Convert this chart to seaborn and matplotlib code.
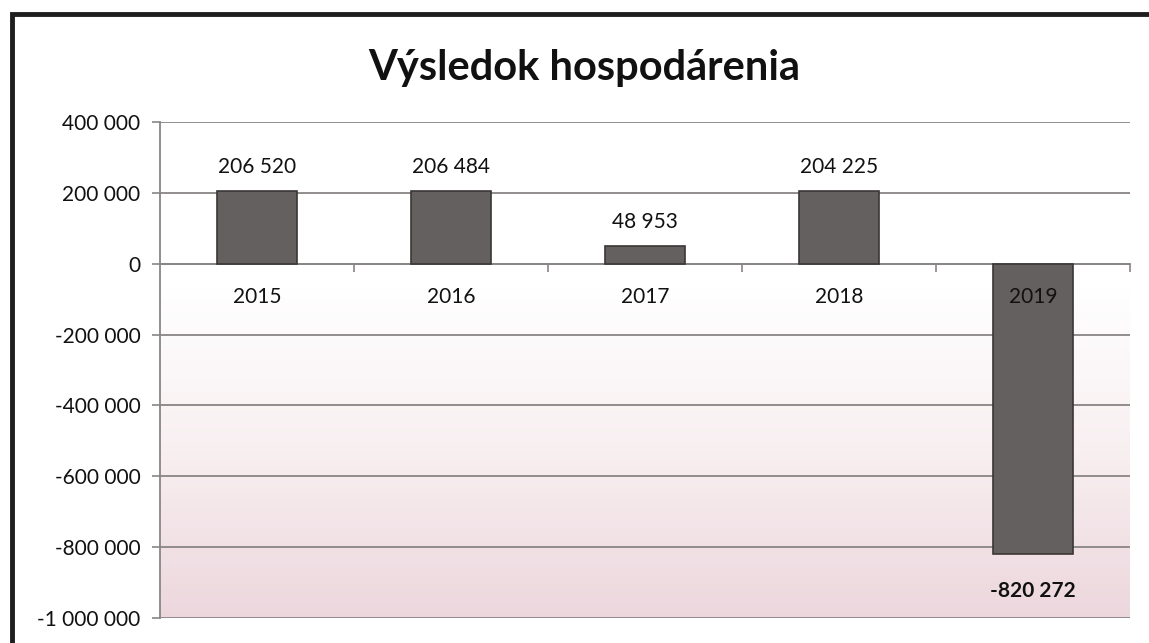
import numpy as np
import pandas as pd
import matplotlib
matplotlib.use("Agg")
import matplotlib.pyplot as plt
from matplotlib.patches import Rectangle
from matplotlib.colors import LinearSegmentedColormap
import seaborn as sns

years = ["2015", "2016", "2017", "2018", "2019"]
values = [206520, 206484, 48953, 204225, -820272]
yticks = [400000, 200000, 0, -200000, -400000, -600000, -800000, -1000000]
title = "Výsledok hospodárenia"

def fmt(v):
    return f"{v:,.0f}".replace(",", " ")

sns.set_theme(style="white")
plt.rcParams['font.family'] = ['Lato', 'DejaVu Sans']

W, H = 1149, 643
FS = 15
fig = plt.figure(figsize=(W / 100, H / 100), dpi=100)
ax = fig.add_axes([160 / W, 1 - 618 / H, 970 / W, (618 - 122) / H])

df = pd.DataFrame({"year": years, "value": values})
sns.barplot(data=df, x="year", y="value", ax=ax, width=0.41,
            color="#656060", edgecolor="#3b3636", linewidth=1.2,
            saturation=1, zorder=3)

# background gradient (white at top -> soft pink at bottom)
cmap = LinearSegmentedColormap.from_list("bg", ["#ffffff", "#ffffff", "#f8eff1", "#ecd7dd"])
grad = np.linspace(1, 0, 256).reshape(-1, 1)
ax.imshow(grad, aspect="auto", cmap=cmap, extent=[0, 1, 0, 1], origin="lower",
          transform=ax.transAxes, zorder=0)
ax.set_xlim(-0.5, len(years) - 0.5)
ax.set_ylim(-1000000, 400000)

# grid and axes
ax.set_yticks(yticks)
ax.set_yticklabels([fmt(v) for v in yticks], fontsize=FS, color="#111111")
ax.grid(axis="y", color="#8a8585", linewidth=1.3, zorder=1)
ax.grid(axis="x", visible=False)
for s in ["top", "right"]:
    ax.spines[s].set_visible(False)
ax.spines["left"].set_color("#8a8585")
ax.spines["left"].set_linewidth(1.3)
ax.spines["bottom"].set_position(("data", 0))
ax.spines["bottom"].set_color("#8a8585")
ax.spines["bottom"].set_linewidth(1.3)
ax.tick_params(axis="y", which="major", left=True, length=6, width=1.2,
               color="#8a8585", pad=8)

# category boundaries ticks, labels at centers
n = len(years)
ax.set_xticks([i + 0.5 for i in range(n)])
ax.set_xticklabels([""] * n)
ax.tick_params(axis="x", which="major", bottom=True, length=6, width=1.2,
               color="#8a8585", direction="out")
ax.set_xticks(list(range(n)), minor=True)
ax.set_xticklabels(years, minor=True, fontsize=FS, color="#111111")
ax.tick_params(axis="x", which="minor", bottom=True, length=0, pad=17)
ax.xaxis.set_zorder(4)
ax.set_xlabel("")
ax.set_ylabel("")

# data labels
for i, v in enumerate(values):
    if v >= 0:
        ax.annotate(fmt(v), (i, v), xytext=(0, 10), textcoords="offset points",
                    ha="center", va="bottom", fontsize=FS, color="#111111", zorder=6)
    else:
        ax.annotate(fmt(v), (i, v), xytext=(0, -19), textcoords="offset points",
                    ha="center", va="top", fontsize=FS, fontweight="bold",
                    color="#111111", zorder=6)

fig.text(584 / W, 1 - 68 / H, title, ha="center", va="center",
         fontsize=30, fontweight="bold", color="#111111")

# chart frame
fig.patches.append(Rectangle((12 / W, -0.1), 1.2, 1 - 14 / H + 0.1,
                             transform=fig.transFigure, fill=False,
                             edgecolor="#1e1e1e", linewidth=3.5, zorder=10))

fig.savefig("out.png", dpi=100, facecolor="white")
